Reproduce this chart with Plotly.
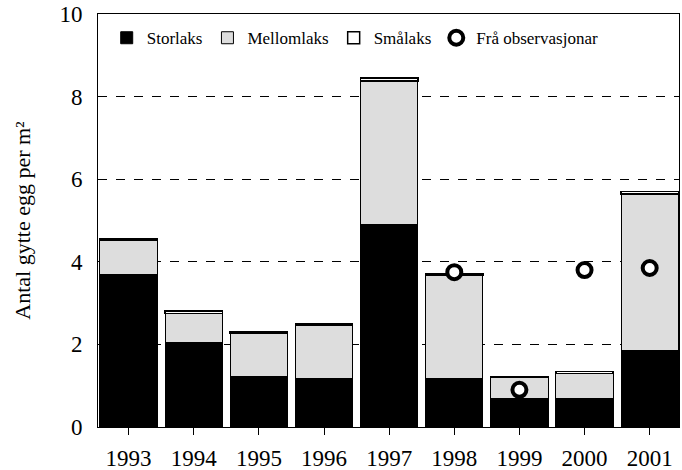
import plotly.graph_objects as go

# Data
years = ['1993', '1994', '1995', '1996', '1997', '1998', '1999', '2000', '2001']
storlaks = [3.70, 2.05, 1.22, 1.18, 4.90, 1.18, 0.70, 0.70, 1.85]
mellomlaks = [0.83, 0.70, 1.05, 1.29, 3.48, 2.49, 0.50, 0.60, 3.79]
smalaks = [0.02, 0.06, 0.03, 0.03, 0.07, 0.03, 0.02, 0.05, 0.06]
obs_years = ['1998', '1999', '2000', '2001']
obs_values = [3.75, 0.90, 3.80, 3.85]

FONT = 'Liberation Serif'

fig = go.Figure()

fig.add_trace(go.Bar(
    x=years, y=storlaks, name='Storlaks',
    marker=dict(color='black', line=dict(color='black', width=1))
))
fig.add_trace(go.Bar(
    x=years, y=mellomlaks, name='Mellomlaks',
    marker=dict(color='#dddddd', line=dict(color='black', width=1))
))
fig.add_trace(go.Bar(
    x=years, y=smalaks, name='Smålaks',
    marker=dict(color='white', line=dict(color='black', width=1.5))
))
fig.add_trace(go.Scatter(
    x=obs_years, y=obs_values, mode='markers', name='Frå observasjonar',
    marker=dict(symbol='circle', size=14, color='white',
                line=dict(color='black', width=4))
))

fig.update_layout(
    width=682, height=470,
    barmode='stack',
    bargap=0.12,
    paper_bgcolor='white',
    plot_bgcolor='white',
    font=dict(family=FONT, size=23, color='black'),
    margin=dict(l=98, r=3, t=14, b=43),
    showlegend=True,
    legend=dict(
        orientation='h', x=0.015, y=0.985, xanchor='left', yanchor='top',
        font=dict(family=FONT, size=17), bgcolor='rgba(0,0,0,0)',
        traceorder='normal', itemwidth=30
    ),
    xaxis=dict(
        range=[-0.47, 8.45], showline=True, linecolor='black', linewidth=1,
        mirror=True, ticks='outside', ticklen=7, tickcolor='black',
        showgrid=False, tickfont=dict(family=FONT, size=23),
        ticklabelstandoff=3, automargin=False
    ),
    yaxis=dict(
        range=[0, 10], dtick=2, showline=True, linecolor='black', linewidth=1,
        mirror=True, ticks='', showgrid=True, gridcolor='black',
        griddash='dash', gridwidth=1, zeroline=False,
        tickfont=dict(family=FONT, size=23), ticklabelstandoff=10,
        title=dict(text='Antal gytte egg per m²', font=dict(family=FONT, size=22),
                   standoff=22)
    )
)

# drop the default page margin so the figure fills the window exactly
fig.write_html("out.html", config={'displayModeBar': False},
               post_script="document.body.style.margin='0';")
